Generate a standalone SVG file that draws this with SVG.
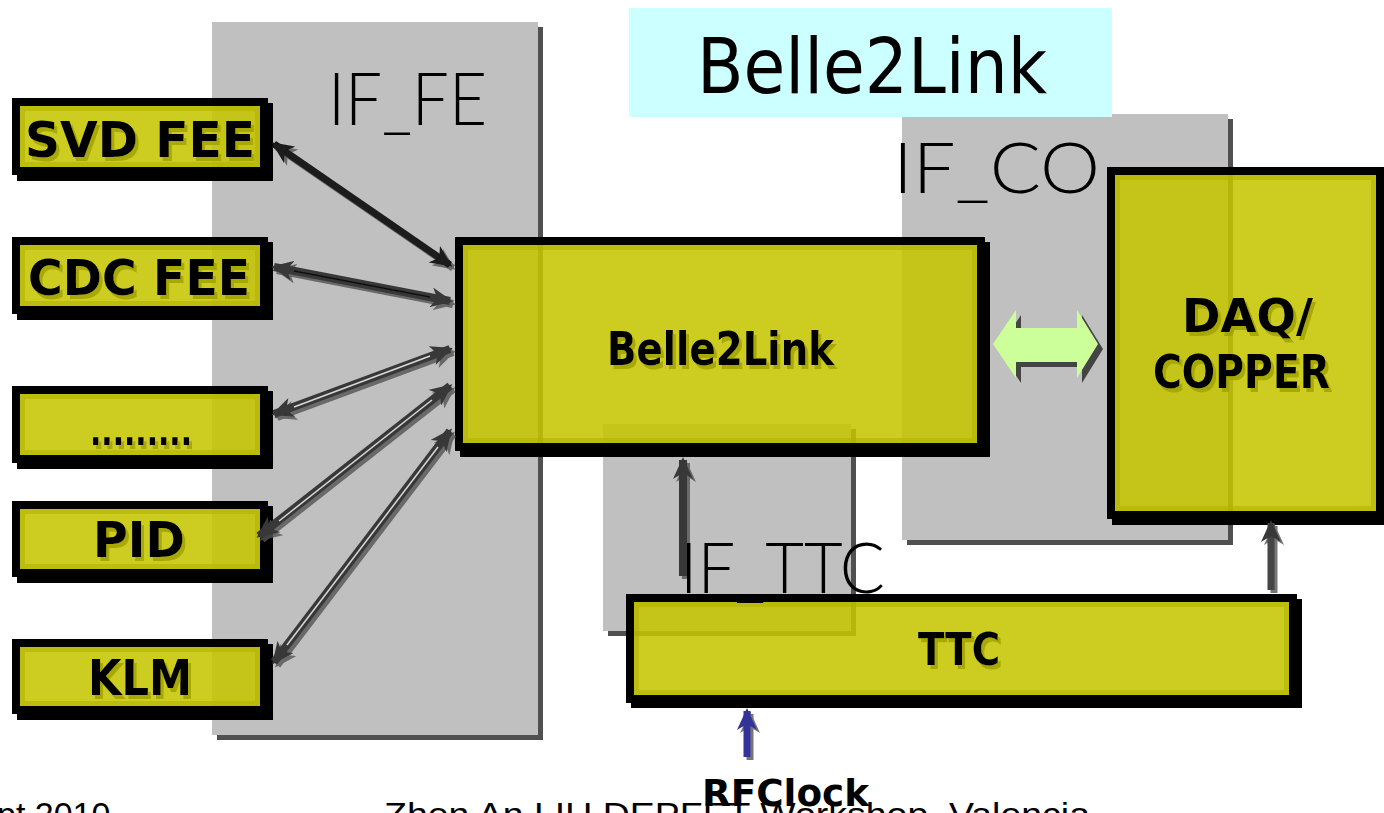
<svg xmlns="http://www.w3.org/2000/svg" width="1384" height="813" viewBox="0 0 1384 813">
<style>
.panel{fill:#c0c0c0}
.pshadow{fill:#505050}
.box{fill:#c5c500;fill-opacity:0.87;stroke:#000;stroke-width:8}
.bevel{fill:none;stroke:#b0b000;stroke-width:5;stroke-opacity:0.55}
.bshadow{fill:#000}
.lbl{font-family:"DejaVu Sans","Liberation Sans",sans-serif;font-weight:bold;fill:#000;filter:url(#ts)}
.thin{font-family:Lato,"Open Sans","DejaVu Sans",sans-serif;font-weight:300;fill:#000}
.foot{font-family:"Liberation Sans",Arial,sans-serif;font-size:34px;fill:#000}
.ln{fill:none;stroke:#383838;stroke-width:8;marker-start:url(#ah);marker-end:url(#ah)}
.inL{fill:none;stroke:#d8d8d8;stroke-width:1.5}
.inD{fill:none;stroke:#111;stroke-width:1.5}
</style>
<defs>
<filter id="ts" x="-10%" y="-20%" width="130%" height="150%">
<feDropShadow dx="3" dy="4" stdDeviation="0.6" flood-color="#a3a300" flood-opacity="0.85"/>
</filter>
<filter id="cs" x="-10%" y="-10%" width="130%" height="130%">
<feDropShadow dx="3" dy="3" stdDeviation="0.5" flood-color="#555" flood-opacity="0.8"/>
</filter>
<marker id="ah" viewBox="0 0 22 20" markerWidth="22" markerHeight="20" refX="19" refY="10" orient="auto-start-reverse" markerUnits="userSpaceOnUse">
<path d="M0,0 L22,10 L0,20 L6,10 Z" fill="#383838"/>
</marker>
<marker id="ahk" viewBox="0 0 22 20" markerWidth="22" markerHeight="20" refX="19" refY="10" orient="auto-start-reverse" markerUnits="userSpaceOnUse">
<path d="M0,0 L22,10 L0,20 L6,10 Z" fill="#1a1a1a"/>
</marker>
<marker id="ahb" viewBox="0 0 22 20" markerWidth="22" markerHeight="20" refX="19" refY="10" orient="auto" markerUnits="userSpaceOnUse">
<path d="M0,0 L22,10 L0,20 L6,10 Z" fill="#333399"/>
</marker>
</defs>
<rect width="1384" height="813" fill="#fff"/>

<g id="panel-if-fe">
<rect class="pshadow" x="217" y="27" width="326" height="713"/>
<rect class="panel" x="212" y="22" width="326" height="713"/>
<text class="thin" x="328" y="125" font-size="73" textLength="159" lengthAdjust="spacingAndGlyphs">IF_FE</text>
</g>
<g id="panel-if-co">
<rect class="pshadow" x="907" y="119" width="326" height="426"/>
<rect class="panel" x="902" y="114" width="326" height="426"/>
</g>
<g id="panel-if-ttc">
<rect class="pshadow" x="608" y="429" width="248" height="207"/>
<rect class="panel" x="603" y="424" width="248" height="207"/>
</g>
<g id="title">
<rect x="629" y="8" width="483" height="109" fill="#ccffff"/>
<text x="697" y="93" font-family="'DejaVu Sans','Liberation Sans',sans-serif" font-size="76" textLength="350" lengthAdjust="spacingAndGlyphs" fill="#000">Belle2Link</text>
</g>
<g id="if-co-label">
<text class="thin" x="893" y="193" font-size="71" textLength="207" lengthAdjust="spacingAndGlyphs">IF_CO</text>
</g>

<g id="svd-fee">
<path class="bshadow" d="M268,103 H273 V181 H17 V175 H268 Z"/>
<rect class="box" x="16" y="102" width="248" height="69"/>
<rect class="bevel" x="22.5" y="108.5" width="235" height="56"/>
<text class="lbl" x="25" y="157" font-size="50" textLength="230" lengthAdjust="spacingAndGlyphs">SVD FEE</text>
</g>
<g id="cdc-fee">
<path class="bshadow" d="M268,242 H273 V320 H17 V314 H268 Z"/>
<rect class="box" x="16" y="241" width="248" height="69"/>
<rect class="bevel" x="22.5" y="247.5" width="235" height="56"/>
<text class="lbl" x="28" y="295" font-size="50" textLength="222" lengthAdjust="spacingAndGlyphs">CDC FEE</text>
</g>
<g id="other-fee">
<path class="bshadow" d="M268,391 H273 V469 H17 V463 H268 Z"/>
<rect class="box" x="16" y="390" width="248" height="69"/>
<rect class="bevel" x="22.5" y="396.5" width="235" height="56"/>
<text class="lbl" x="90" y="445" font-size="40" textLength="102" lengthAdjust="spacingAndGlyphs">.........</text>
</g>
<g id="pid">
<path class="bshadow" d="M268,506 H273 V583 H17 V577 H268 Z"/>
<rect class="box" x="16" y="505" width="248" height="68"/>
<rect class="bevel" x="22.5" y="511.5" width="235" height="55"/>
<text class="lbl" x="93" y="557" font-size="50" textLength="92" lengthAdjust="spacingAndGlyphs">PID</text>
</g>
<g id="klm">
<path class="bshadow" d="M268,644 H273 V720 H17 V714 H268 Z"/>
<rect class="box" x="16" y="643" width="248" height="67"/>
<rect class="bevel" x="22.5" y="649.5" width="235" height="54"/>
<text class="lbl" x="88" y="695" font-size="50" textLength="104" lengthAdjust="spacingAndGlyphs">KLM</text>
</g>
<g id="belle2link">
<path class="bshadow" d="M985,242 H990 V457 H460 V451 H985 Z"/>
<rect class="box" x="459" y="241" width="522" height="206"/>
<rect class="bevel" x="465.5" y="247.5" width="509" height="193"/>
<text class="lbl" x="607" y="365" font-size="46" textLength="227" lengthAdjust="spacingAndGlyphs">Belle2Link</text>
</g>
<g id="daq-copper">
<path class="bshadow" d="M1384,519 V525 H1112 V519 Z"/>
<rect class="box" x="1111" y="171" width="269" height="344"/>
<rect class="bevel" x="1117.5" y="177.5" width="256" height="331"/>
<text class="lbl" x="1182" y="332" font-size="46" textLength="131" lengthAdjust="spacingAndGlyphs">DAQ/</text>
<text class="lbl" x="1153" y="388" font-size="46" textLength="177" lengthAdjust="spacingAndGlyphs">COPPER</text>
</g>
<g id="ttc">
<path class="bshadow" d="M1297,599 H1302 V708 H631 V703 H1297 Z"/>
<rect class="box" x="630" y="598" width="663" height="101"/>
<rect class="bevel" x="636.5" y="604.5" width="650" height="88"/>
<text class="lbl" x="918" y="665" font-size="44" textLength="82" lengthAdjust="spacingAndGlyphs">TTC</text>
</g>

<g id="connectors">
<g filter="url(#cs)">
<line x1="274" y1="144" x2="450" y2="265" stroke="#1a1a1a" stroke-width="7" marker-start="url(#ahk)" marker-end="url(#ahk)"/>
<line class="ln" x1="274" y1="267" x2="450" y2="301"/>
<line class="inD" x1="294" y1="271" x2="430" y2="297"/>
<line class="ln" x1="274" y1="414" x2="450" y2="349"/>
<line class="inL" x1="294" y1="407" x2="430" y2="356"/>
<line class="ln" x1="259" y1="536" x2="450" y2="386"/>
<line class="inL" x1="279" y1="521" x2="432" y2="400"/>
<line class="ln" x1="274" y1="662" x2="450" y2="431"/>
<line class="inL" x1="287" y1="645" x2="438" y2="447"/>
<line x1="683" y1="576" x2="683" y2="460" stroke="#383838" stroke-width="8" marker-end="url(#ah)"/>
<line x1="1271" y1="590" x2="1271" y2="523" stroke="#444" stroke-width="7" marker-end="url(#ah)"/>
<line x1="747" y1="757" x2="747" y2="711" stroke="#333399" stroke-width="7" marker-end="url(#ahb)"/>
</g>
<polygon points="998,349 1021,315 1021,333 1082,333 1082,315 1103,349 1082,383 1082,367 1021,367 1021,383" fill="#444"/>
<polygon points="993,344 1016,310 1016,328 1077,328 1077,310 1098,344 1077,378 1077,362 1016,362 1016,378" fill="#ccff99"/>
</g>

<g id="if-ttc-label">
<text class="thin" x="680" y="593" font-size="70" textLength="205" lengthAdjust="spacingAndGlyphs">IF_TTC</text>
</g>
<g id="footer">
<text class="foot" x="-3" y="826">pt 2010</text>
<text class="foot" x="384" y="826" textLength="706" lengthAdjust="spacingAndGlyphs">Zhen An LIU DEPFET Workshop, Valencia</text>
</g>
<g id="rfclock">
<text class="lbl" x="702" y="806" font-size="38" textLength="167" lengthAdjust="spacingAndGlyphs" style="filter:none">RFClock</text>
</g>
</svg>
